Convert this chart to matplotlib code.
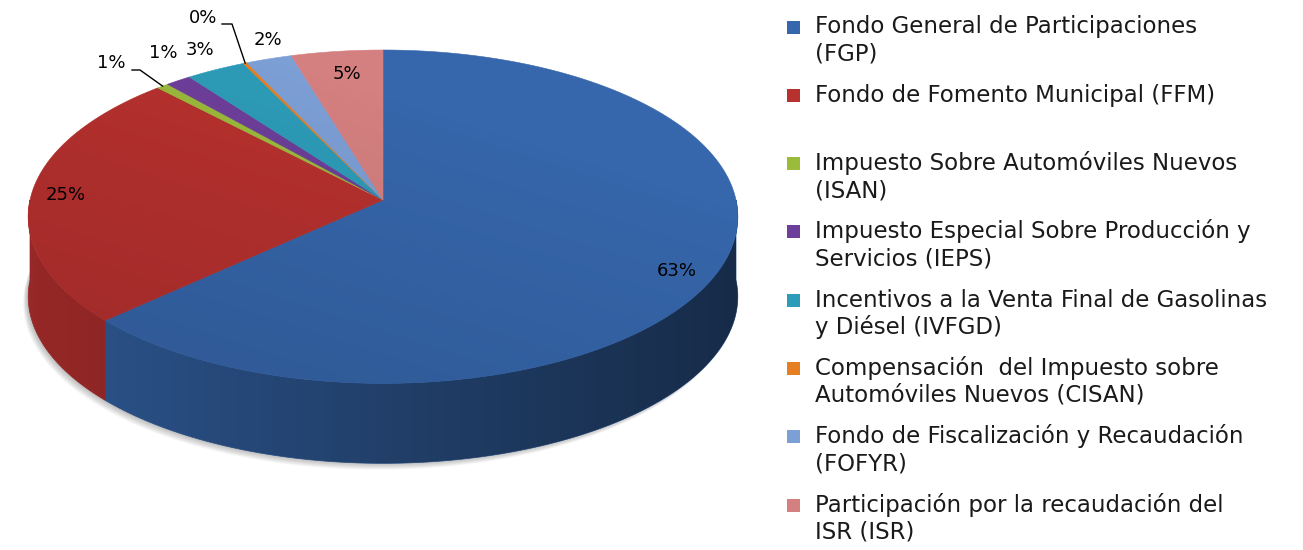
import numpy as np
import matplotlib.pyplot as plt
from matplotlib.patches import Polygon, Rectangle
from matplotlib.colors import to_rgb

plt.rcParams['font.family'] = ['DejaVu Sans']

# participaciones por fondo (%)
categorias = [
    "Fondo General de Participaciones\n(FGP)",
    "Fondo de Fomento Municipal (FFM)",
    "Impuesto Sobre Automóviles Nuevos\n(ISAN)",
    "Impuesto Especial Sobre Producción y\nServicios (IEPS)",
    "Incentivos a la Venta Final de Gasolinas\ny Diésel (IVFGD)",
    "Compensación  del Impuesto sobre\nAutomóviles Nuevos (CISAN)",
    "Fondo de Fiscalización y Recaudación\n(FOFYR)",
    "Participación por la recaudación del\nISR (ISR)",
]
porcentajes = [63.1, 24.9, 0.6, 1.3, 3.0, 0.2, 2.3, 4.6]
colores = ["#3666ab", "#b7312f", "#9bbb3b", "#6e3f9a",
           "#2d9cb8", "#e67e22", "#7c9fd6", "#d58080"]

# posicion de las etiquetas (pixeles) y cuales llevan linea guia
pos_etiquetas = [(677, 271), (66, 195), (111, 63), (163, 53),
                 (200, 50), (203, 18), (268, 40), (347, 74)]
con_guia = {2: (132, 140, 70), 5: (222, 232, 24)}

# geometria del pastel 3D
CX, CY = 383, 200
A, B = 353, 165
K = 0.1      # perspectiva
D = 80       # grosor

def proyectar(theta, dz=0.0):
    t = np.radians(theta)
    s = 1.0 / (1.0 + K * np.sin(t))
    return CX + A * np.cos(t) * s, CY - B * np.sin(t) * s + dz

def oscurecer(c, f):
    r, g, b = to_rgb(c)
    return (r * f, g * f, b * f)

fig = plt.figure(figsize=(13.03, 5.5), dpi=100)
ax = fig.add_axes([0, 0, 1, 1])

total = sum(porcentajes)
acum = np.cumsum(porcentajes) / total
fin = 90 - 360 * acum
ini = 90 - 360 * (acum - np.array(porcentajes) / total)

# sombra difusa bajo el pastel
th = np.linspace(0, 360, 361)
xs, ys = proyectar(th, D)
for i in range(7):
    ax.add_patch(Polygon(np.column_stack([xs - 1.5 - 0.6 * i, ys + 1 + 0.9 * i]),
                         closed=True, facecolor='black', edgecolor='none',
                         alpha=0.035, zorder=0))

# paredes laterales (solo la mitad frontal)
for i in range(len(porcentajes)):
    a = max(fin[i], -180)
    b = min(ini[i], 0)
    if a >= b:
        continue
    th = np.linspace(b, a, max(2, int((b - a) / 0.5) + 1))
    xs, ys = proyectar(th)
    pts = list(zip(xs, ys)) + list(zip(xs[::-1], ys[::-1] + D))
    c = oscurecer(colores[i], 0.82)
    ax.add_patch(Polygon(pts, closed=True, facecolor=c, edgecolor=c, lw=0.5, zorder=1))

# sombreado horizontal de la pared
th = np.linspace(0, -180, 361)
xs, ys = proyectar(th)
pared = Polygon(list(zip(xs, ys)) + list(zip(xs[::-1], ys[::-1] + D)), closed=True,
                facecolor='none', edgecolor='none')
ax.add_patch(pared)
gx = np.linspace(-1, 1, 300)
f = 0.62 - 0.2 * gx
capa = np.zeros((2, 300, 4))
capa[..., 3] = np.clip(1 - f / 0.82, 0, 1)
im = ax.imshow(capa, extent=(CX - A - 5, CX + A + 5, CY + B * 1.2 + D, CY), zorder=1.5,
               interpolation='bilinear', aspect='auto')
im.set_clip_path(pared)

# cara superior
for i in range(len(porcentajes)):
    th = np.linspace(ini[i], fin[i], max(3, int(abs(ini[i] - fin[i])) + 2))
    xs, ys = proyectar(th)
    pts = [(CX, CY)] + list(zip(xs, ys))
    ax.add_patch(Polygon(pts, closed=True, facecolor=colores[i],
                         edgecolor=colores[i], lw=0.4, zorder=2))

# degradado sobre la cara superior
th = np.linspace(0, 360, 721)
xs, ys = proyectar(th)
borde = Polygon(np.column_stack([xs, ys]), closed=True, facecolor='none',
                edgecolor='none')
ax.add_patch(borde)
gx, gy = np.meshgrid(np.linspace(0, 1, 200), np.linspace(0, 1, 100))
grad = np.clip(0.55 * gy + 0.35 * (1 - gx) - 0.25, 0, 1) * 0.22
img = np.zeros((100, 200, 4))
img[..., 3] = grad
im = ax.imshow(img, extent=(CX - A - 5, CX + A + 5, CY + B * 1.2, CY - B), zorder=3,
               interpolation='bilinear', aspect='auto')
im.set_clip_path(borde)

ax.set_xlim(0, 1303)
ax.set_ylim(550, 0)
ax.axis('off')

# etiquetas de datos
for i, v in enumerate(porcentajes):
    x, y = pos_etiquetas[i]
    ax.text(x, y, "{:.0f}%".format(v), ha='center', va='center',
            fontsize=13, color='black', zorder=5)
    if i in con_guia:
        xa, xb, yg = con_guia[i]
        tm = (ini[i] + fin[i]) / 2
        xe, ye = proyectar(tm)
        ax.plot([xa, xb, xe], [yg, yg, ye], color='black', lw=1, zorder=5)

# leyenda
for i, nombre in enumerate(categorias):
    y0 = 27 + 68.3 * i
    ax.add_patch(Rectangle((787, y0 - 6.5), 13, 13, facecolor=colores[i],
                           edgecolor='none', zorder=5))
    for j, linea in enumerate(nombre.split("\n")):
        ax.text(815, y0 + 27 * j + 6.5, linea, ha='left', va='baseline',
                fontsize=16.5, color='#1a1a1a', zorder=5)

fig.savefig("out.png", dpi=100)
